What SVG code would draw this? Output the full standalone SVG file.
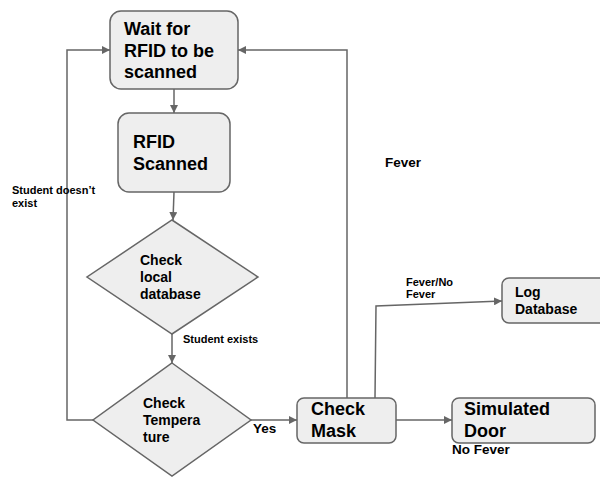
<svg xmlns="http://www.w3.org/2000/svg" width="600" height="477" viewBox="0 0 600 477">
<style>
.n{fill:#eeeeee;stroke:#666666;stroke-width:1.5}
.c{fill:none;stroke:#666666;stroke-width:1.5}
text{font-family:"Liberation Sans",Arial,sans-serif;font-weight:bold;fill:#000}
.t18{font-size:18px}
.t14{font-size:14px}
.t11{font-size:11px}
</style>
<defs>
<marker id="ah" viewBox="0 0 10 10" refX="10" refY="5" markerWidth="8" markerHeight="8" markerUnits="userSpaceOnUse" orient="auto">
<path d="M0,0 L10,5 L0,10 z" fill="#666666"/>
</marker>
</defs>
<rect width="600" height="477" fill="#ffffff"/>
<g id="connectors">
<path class="c" d="M174,89 L174,113" marker-end="url(#ah)"/>
<path class="c" d="M174,192 L173,220" marker-end="url(#ah)"/>
<path class="c" d="M172,334 L172,363" marker-end="url(#ah)"/>
<path class="c" d="M93,420 L67,420 L67,50 L110,50" marker-end="url(#ah)"/>
<path class="c" d="M251,420 L297,420" marker-end="url(#ah)"/>
<path class="c" d="M347,398 L347,50 L238,50" marker-end="url(#ah)"/>
<path class="c" d="M375,398 L376,306 L502,301" marker-end="url(#ah)"/>
<path class="c" d="M396,420 L452,420" marker-end="url(#ah)"/>
</g>
<g id="wait">
<rect class="n" x="110" y="11" width="128" height="78" rx="11"/>
<text class="t18" x="124" y="35">Wait for</text>
<text class="t18" x="124" y="57">RFID to be</text>
<text class="t18" x="124" y="78">scanned</text>
</g>
<g id="scanned">
<rect class="n" x="118" y="113" width="112" height="79" rx="11"/>
<text class="t18" x="133" y="148">RFID</text>
<text class="t18" x="133" y="170">Scanned</text>
</g>
<g id="checkdb">
<polygon class="n" points="172,220 258,277 172,334 87,277"/>
<text class="t14" x="140" y="265">Check</text>
<text class="t14" x="140" y="282">local</text>
<text class="t14" x="140" y="299">database</text>
</g>
<g id="checktemp">
<polygon class="n" points="172,363 251,420 172,476 93,420"/>
<text class="t14" x="143" y="408">Check</text>
<text class="t14" x="143" y="425">Tempera</text>
<text class="t14" x="143" y="442">ture</text>
</g>
<g id="mask">
<rect class="n" x="297" y="398" width="99" height="45" rx="7"/>
<text class="t18" x="311" y="415">Check</text>
<text class="t18" x="311" y="437">Mask</text>
</g>
<g id="logdb">
<rect class="n" x="502" y="278" width="105" height="45" rx="7"/>
<text class="t14" x="515" y="297">Log</text>
<text class="t14" x="515" y="314">Database</text>
</g>
<g id="door">
<rect class="n" x="452" y="398" width="143" height="45" rx="7"/>
<text class="t18" x="464" y="415">Simulated</text>
<text class="t18" x="464" y="437">Door</text>
</g>
<g id="labels">
<text class="t11" x="12" y="194">Student doesn’t</text>
<text class="t11" x="12" y="207">exist</text>
<text class="t11" x="183" y="343">Student exists</text>
<text style="font-size:13.5px" x="253" y="433">Yes</text>
<text style="font-size:13.5px" x="385" y="167">Fever</text>
<text class="t11" x="406" y="286">Fever/No</text>
<text class="t11" x="406" y="298">Fever</text>
<text style="font-size:13.5px" x="452" y="454">No Fever</text>
</g>
</svg>
